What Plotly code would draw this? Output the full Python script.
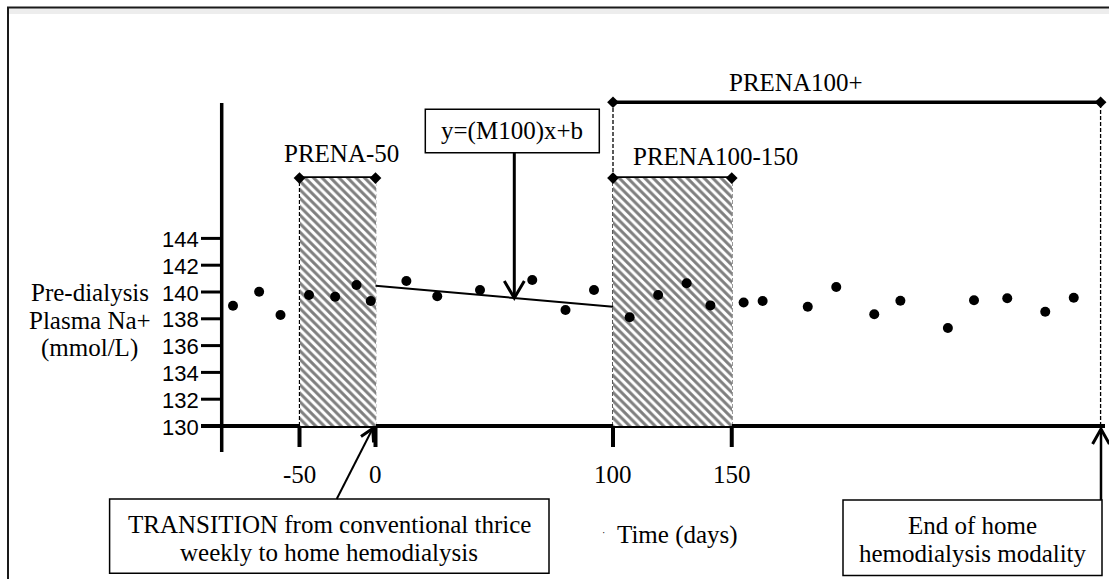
import plotly.graph_objects as go

# ---------------- data ----------------
# schematic time position of each pre-dialysis sample (axis is not to scale before day 0)
sample_pos = [-60, -49, -40, -28, -17, -8, -2, 13, 26, 44, 66, 80, 92, 107,
              119, 131, 141, 155, 163, 182, 194, 210, 221, 241, 252, 266, 282, 294]
plasma_na = [138.98, 140.02, 138.28, 139.78, 139.65, 140.52, 139.33, 140.82,
             139.68, 140.15, 140.90, 138.66, 140.15, 138.11, 139.78, 140.65,
             139.00, 139.22, 139.33, 138.90, 140.37, 138.34, 139.35, 137.31,
             139.38, 139.53, 138.53, 139.57]

reg_x = [0, 100]
reg_y = [140.47, 138.90]

y_ticks = [130, 132, 134, 136, 138, 140, 142, 144]
x_tick_pos = [-32, 0, 100, 150]
x_tick_text = ["-50", "0", "100", "150"]

period_names = ["PRENA-50", "PRENA100-150"]
period_start = [-32, 100]
period_end = [0, 150]
period_top = 148.5

plus_name = "PRENA100+"
plus_start = 100
plus_end = 305.3
plus_level = 154.16

# ---------------- pixel <-> data helpers (for diagram furniture) ----------------
W, H = 1109, 579
X_PX0, X_SCALE = 375.5, 2.375
Y_PX130, Y_SCALE = 426.0, 13.4


def dx(px):
    return (px - X_PX0) / X_SCALE


def dy(py):
    return 130 + (Y_PX130 - py) / Y_SCALE


SERIF = "Liberation Serif, Times New Roman, serif"
SANS = "Liberation Sans, Arial, sans-serif"
BLACK = "#000000"

fig = go.Figure()

# hatched periods
fig.add_trace(go.Bar(
    x=[(s + e) / 2 for s, e in zip(period_start, period_end)],
    y=[period_top - 130 for _ in period_start],
    base=130,
    width=[e - s for s, e in zip(period_start, period_end)],
    marker=dict(color="white", line=dict(width=0),
                pattern=dict(shape="\\", fgcolor=BLACK, bgcolor="white",
                             size=6, solidity=0.5)),
    hoverinfo="skip", showlegend=False,
))

# regression line
fig.add_trace(go.Scatter(x=reg_x, y=reg_y, mode="lines",
                         line=dict(color=BLACK, width=2),
                         hoverinfo="skip", showlegend=False))

# samples
fig.add_trace(go.Scatter(x=sample_pos, y=plasma_na, mode="markers",
                         marker=dict(color=BLACK, size=10),
                         hoverinfo="skip", showlegend=False))

# diamond end caps of the period brackets
cap_x = period_start + period_end + [plus_start, plus_end]
cap_y = [period_top] * (2 * len(period_start)) + [plus_level, plus_level]
fig.add_trace(go.Scatter(x=cap_x, y=cap_y, mode="markers",
                         marker=dict(color=BLACK, size=9, symbol="diamond"),
                         hoverinfo="skip", showlegend=False, cliponaxis=False))

shapes = []


def line(x0, y0, x1, y1, width=2, dash="solid"):
    shapes.append(dict(type="line", xref="x", yref="y", x0=x0, y0=y0, x1=x1, y1=y1,
                       layer="below",
                       line=dict(color=BLACK, width=width, dash=dash)))


def rect(px0, py0, px1, py1, width=1.5):
    shapes.append(dict(type="rect", xref="x", yref="y",
                       x0=dx(px0), y0=dy(py0), x1=dx(px1), y1=dy(py1),
                       line=dict(color=BLACK, width=width), fillcolor="white"))


def arrow_head(tip, arm1, arm2, width=3):
    # tip / arms given in pixel coordinates
    path = "M {},{} L {},{} L {},{}".format(dx(arm1[0]), dy(arm1[1]),
                                            dx(tip[0]), dy(tip[1]),
                                            dx(arm2[0]), dy(arm2[1]))
    shapes.append(dict(type="path", xref="x", yref="y", path=path,
                       line=dict(color=BLACK, width=width)))


# outer frame (with soft shadow)
shapes.append(dict(type="line", xref="paper", yref="paper", x0=9 / W, x1=1.0,
                   y0=1 - 11 / H, y1=1 - 11 / H,
                   line=dict(color="rgba(0,0,0,0.07)", width=6)))
shapes.append(dict(type="rect", xref="paper", yref="paper",
                   x0=8 / W, y0=-0.05, x1=1.05, y1=1 - 7.5 / H,
                   line=dict(color="#1a1a1a", width=2)))

DASH = "4px,2px"

# period boxes: dashed sides, solid tops
for s, e in zip(period_start, period_end):
    line(s, 130, s, period_top, width=1.3, dash=DASH)
    line(e, 130, e, period_top, width=1.3, dash=DASH)
    line(s, period_top, e, period_top, width=3.5)

# PRENA100+ bracket
line(plus_start, plus_level, plus_end, plus_level, width=3.5)
line(plus_start, period_top, plus_start, plus_level, width=1.3, dash=DASH)
line(plus_end, 130, plus_end, plus_level, width=1.3, dash=DASH)

# y axis + ticks
y_axis_x = dx(221.7)
line(y_axis_x, dy(452), y_axis_x, dy(103), width=3.5)
for t in y_ticks:
    line(dx(201), t, y_axis_x, t, width=3)

# x axis + ticks
line(dx(201), 130, dx(1105), 130, width=4)
for p in x_tick_pos:
    line(p, 130, p, dy(447), width=4)

# formula box + arrow to the regression line
rect(425.3, 109.3, 599.3, 152.7)
fx = dx(514.3)
slope = (reg_y[1] - reg_y[0]) / (reg_x[1] - reg_x[0])
fy = reg_y[0] + slope * (fx - reg_x[0])
shapes.append(dict(type="line", xref="x", yref="y", x0=fx, y0=dy(152.7), x1=fx, y1=fy,
                   line=dict(color=BLACK, width=3)))
tip_py = Y_PX130 - (fy - 130) * Y_SCALE
arrow_head((514.3, tip_py), (504.3, tip_py - 17), (524.3, tip_py - 17))

# transition box + arrow
rect(109.6, 499, 549, 573.3)
shapes.append(dict(type="line", xref="x", yref="y", x0=dx(336.7), y0=dy(499),
                   x1=dx(372.7), y1=dy(428.5), line=dict(color=BLACK, width=2)))
arrow_head((372.7, 428.5), (361, 436.5), (373.6, 442.5))

# end box + arrow
rect(843, 500, 1102, 575.4)
shapes.append(dict(type="line", xref="x", yref="y", x0=dx(1101), y0=dy(500),
                   x1=dx(1101), y1=dy(429), line=dict(color=BLACK, width=2.5)))
arrow_head((1101, 429), (1092.6, 444), (1109.4, 444))

annotations = []


def text(px, py, s, size=25, family=SERIF, xanchor="center"):
    annotations.append(dict(x=dx(px), y=dy(py), xref="x", yref="y", text=s,
                            showarrow=False, xanchor=xanchor, yanchor="middle",
                            font=dict(family=family, size=size, color=BLACK)))


# y tick labels
for t in y_ticks:
    annotations.append(dict(x=dx(201), y=t, xref="x", yref="y", text=str(t),
                            showarrow=False, xanchor="right", yanchor="middle",
                            yshift=-1,
                            font=dict(family=SANS, size=22, color=BLACK)))
# x tick labels
for p, s in zip(x_tick_pos, x_tick_text):
    annotations.append(dict(x=p, y=dy(474), xref="x", yref="y", text=s,
                            showarrow=False, xanchor="center", yanchor="middle",
                            font=dict(family=SERIF, size=25, color=BLACK)))

# y axis title
text(89.5, 292, "Pre-dialysis")
text(89.5, 320, "Plasma Na+")
text(89.5, 348, "(mmol/L)")

# period labels
text(341.7, 153, period_names[0])
text(715.5, 156, period_names[1])
text(796, 82, plus_name)
text(512.3, 131, "y=(M100)x+b")

# bottom texts
text(329.3, 524, "TRANSITION from conventional thrice")
text(329.3, 552, "weekly to home hemodialysis")
text(972.5, 525.5, "End of home")
text(972.5, 553.5, "hemodialysis modality")
text(677.8, 535, "Time (days)")
text(603.6, 532, "·", size=10)

fig.update_layout(
    width=W, height=H,
    margin=dict(l=0, r=0, t=0, b=0),
    paper_bgcolor="white", plot_bgcolor="white",
    showlegend=False,
    xaxis=dict(range=[dx(0), dx(W)], visible=False, fixedrange=True),
    yaxis=dict(range=[dy(H), dy(0)], visible=False, fixedrange=True),
    shapes=shapes,
    annotations=annotations,
    bargap=0,
)

fig.write_html("out.html")
